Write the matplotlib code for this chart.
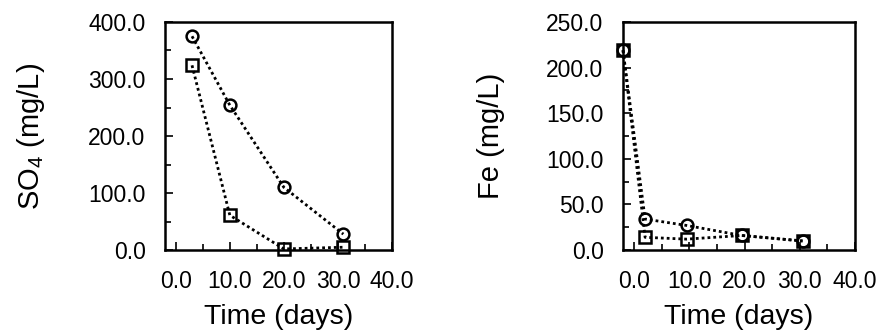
import matplotlib
matplotlib.use("Agg")
import matplotlib.pyplot as plt
from matplotlib.ticker import MultipleLocator, FormatStrFormatter

plt.rcParams['font.family'] = ['Liberation Sans', 'DejaVu Sans']
plt.rcParams['mathtext.default'] = 'regular'

# SO4 panel
so4_days = [3, 10, 20, 31]
so4_circle = [375, 254, 110, 28]
so4_square = [324, 61, 2, 5]

# Fe panel
fe_days = [-2, 2, 9.5, 19.5, 30.5]
fe_circle = [219, 34, 27, 16, 10]
fe_square = [219, 14, 12, 16, 10]

xticks = [0, 10, 20, 30, 40]

fig = plt.figure(figsize=(8.89, 3.33), dpi=100)
ax1 = fig.add_axes([0.1856, 0.249, 0.2553, 0.685])
ax2 = fig.add_axes([0.7008, 0.249, 0.261, 0.685])

line_kw = dict(color='black', linestyle=(0, (1, 1.1)), linewidth=2.0,
               markerfacecolor='none', markeredgecolor='black',
               markeredgewidth=1.8, markersize=8.5)

ax1.plot(so4_days, so4_circle, marker='o', **line_kw)
ax1.plot(so4_days, so4_square, marker='s', **line_kw)
ax2.plot(fe_days, fe_circle, marker='o', **line_kw)
ax2.plot(fe_days, fe_square, marker='s', **line_kw)

for ax, ymax, ymaj, ymin, ylab in [(ax1, 400, 100, 50, 'SO$_4$ (mg/L)'),
                                   (ax2, 250, 50, 25, 'Fe (mg/L)')]:
    ax.set_xlim(-2, 40)
    ax.set_ylim(0, ymax)
    ax.set_xticks(xticks)
    ax.xaxis.set_minor_locator(MultipleLocator(5))
    ax.yaxis.set_major_locator(MultipleLocator(ymaj))
    ax.yaxis.set_minor_locator(MultipleLocator(ymin))
    ax.xaxis.set_major_formatter(FormatStrFormatter('%.1f'))
    ax.yaxis.set_major_formatter(FormatStrFormatter('%.1f'))
    ax.tick_params(which='both', direction='in', top=False, right=False,
                   width=1.2, labelsize=16.5, pad=14)
    ax.tick_params(which='major', length=6)
    ax.tick_params(which='minor', length=4)
    for s in ax.spines.values():
        s.set_linewidth(1.8)
    ax.set_xlabel('Time (days)', fontsize=20.5, labelpad=8)
    ax.set_ylabel(ylab, fontsize=21, labelpad=30)
    for ln in ax.lines:
        ln.set_clip_on(False)

fig.savefig('out.png', dpi=100)
